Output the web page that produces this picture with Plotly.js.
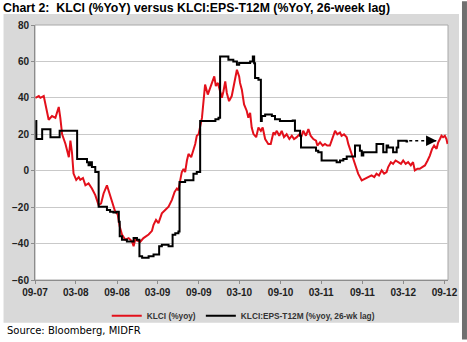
<!DOCTYPE html>
<html><head><meta charset="utf-8">
<script src="https://cdn.plot.ly/plotly-3.0.1.min.js"></script>
<style>html,body{margin:0;padding:0;background:#fff;}#chart{width:467px;height:342px;}</style>
</head><body><div id="chart"></div>
<script>
// ---- data ----
const klciDates = ['2007-09-03','2007-09-18','2007-09-25','2007-10-10','2007-11-01','2007-11-16','2007-12-01','2007-12-16','2007-12-23','2007-12-31',
'2008-01-15','2008-01-30','2008-02-06','2008-02-13','2008-02-20','2008-03-03','2008-03-14','2008-03-21','2008-04-02','2008-04-13',
'2008-04-27','2008-05-12','2008-05-27','2008-06-11','2008-06-22','2008-07-03','2008-07-18','2008-07-30','2008-08-10','2008-08-24',
'2008-09-04','2008-09-13','2008-09-23','2008-10-08','2008-10-23','2008-11-07','2008-11-14','2008-11-21','2008-12-14','2008-12-28',
'2009-01-20','2009-02-04','2009-02-11','2009-02-22','2009-03-05','2009-03-20','2009-04-04','2009-04-19','2009-05-04','2009-05-16',
'2009-05-26','2009-06-02','2009-06-10','2009-06-17','2009-06-25','2009-07-02','2009-07-10','2009-07-17','2009-07-29','2009-08-08',
'2009-08-16','2009-08-23','2009-08-31','2009-09-15','2009-09-22','2009-09-29','2009-10-11','2009-10-22','2009-11-01','2009-11-09',
'2009-11-16','2009-11-25','2009-12-05','2009-12-13','2009-12-20','2009-12-28','2010-01-04','2010-01-14','2010-01-26','2010-02-07',
'2010-02-18','2010-02-28','2010-03-04','2010-03-12','2010-03-22','2010-04-03','2010-04-10','2010-04-18','2010-04-25','2010-05-03',
'2010-05-15','2010-05-25','2010-06-05','2010-06-13','2010-06-24','2010-07-08','2010-07-19','2010-07-31','2010-08-07','2010-08-15',
'2010-08-26','2010-09-06','2010-09-16','2010-09-28','2010-10-10','2010-10-21','2010-10-31','2010-11-12','2010-11-24','2010-12-04',
'2010-12-11','2010-12-23','2011-01-03','2011-01-13','2011-01-25','2011-02-06','2011-02-12','2011-02-24','2011-03-08','2011-03-18',
'2011-03-28','2011-04-09','2011-04-21','2011-05-02','2011-05-12','2011-05-24','2011-05-31','2011-06-11','2011-06-23','2011-06-30',
'2011-07-15','2011-07-30','2011-08-13','2011-08-29','2011-09-12','2011-09-27','2011-10-12','2011-10-24','2011-11-03','2011-11-14',
'2011-11-26','2011-12-07','2011-12-18','2011-12-25','2012-01-06','2012-01-16','2012-01-27','2012-02-08','2012-02-20','2012-03-01',
'2012-03-12','2012-03-23','2012-04-04','2012-04-14','2012-04-22','2012-05-04','2012-05-14','2012-05-25','2012-06-06','2012-06-18',
'2012-06-28','2012-07-08','2012-07-17','2012-07-28','2012-08-04','2012-08-12','2012-08-19','2012-08-26','2012-09-03','2012-09-10',
'2012-09-15'];
const klciYoY = [40,41,40,41,28,30,29,35,29,20,
14.7,7.4,16.5,10,-1.6,-5,-3.5,-5,-4,-8,
-7,-9.8,-13.4,-18.9,-18,-12.5,-8,-12.5,-17,-22.5,
-24,-30.6,-35,-37.9,-37,-38.8,-41.5,-37.9,-39,-37,
-35,-33,-29.7,-27,-28.8,-23.4,-21.6,-19.8,-16,-11.6,
-9.8,-10.7,-5.3,-0.8,1,-0.8,5.6,9.2,7.4,11,
14.7,19.2,20,29,38.2,47.3,41.8,45.4,48.2,51.8,
46.5,48.2,43.6,40,43.6,49,42.7,38.2,41,49,
55.4,51.8,48.2,44.5,36.4,32.8,29.1,31.8,23.7,20.1,
18.4,23.7,21.9,23.7,17.4,14.7,14.7,21,20,21.9,
19.2,21.9,18.4,20,17.4,19.2,17.4,18.4,20,19.2,
21.9,19.2,22.8,19.2,17.4,16.5,13.8,15.6,13.8,14.7,
13.8,13.8,18.4,21.9,20,21,19.2,20,18.4,14.7,
9.2,2.9,-1.6,-5.3,-4.4,-3.5,-2.6,-3.5,-1.6,-2.6,
0.2,-1.6,-0.7,2,4.7,3.8,5.6,4.7,3.8,5.6,
3.8,4.7,2.9,4.7,0.2,1.1,1.1,2,2.9,5.6,
8.3,12,13.8,12,15.5,17.4,19.2,18.4,19.2,17.4,
14.7];

const epsDates = ['2007-09-03','2007-09-07','2007-10-03','2007-11-09','2007-12-20','2008-03-07','2008-04-20','2008-04-27','2008-05-05','2008-05-12',
'2008-05-27','2008-06-11','2008-07-18','2008-08-01','2008-08-16','2008-08-29','2008-09-09','2008-09-13','2008-09-23','2008-10-15',
'2008-11-14','2008-11-29','2008-12-10','2008-12-22','2009-01-20','2009-02-11','2009-03-08','2009-03-20','2009-04-19','2009-05-07',
'2009-05-19','2009-06-02','2009-06-07','2009-07-02','2009-08-08','2009-08-23','2009-09-07','2009-11-14','2009-11-28','2009-12-05',
'2010-01-11','2010-02-02','2010-02-18','2010-02-28','2010-04-18','2010-04-30','2010-05-06','2010-05-10','2010-05-25','2010-06-05',
'2010-06-09','2010-06-24','2010-07-24','2010-08-07','2010-08-29','2010-10-25','2010-11-04','2010-11-27','2010-12-01','2011-02-06',
'2011-02-16','2011-03-03','2011-05-09','2011-05-24','2011-06-08','2011-06-23','2011-07-30','2011-08-21','2011-08-29','2011-09-05',
'2011-11-03','2011-12-03','2011-12-18','2011-12-25','2012-01-16','2012-02-01','2012-02-08','2012-03-16','2012-03-23'];
const epsYoYLag = [27.3,17.4,22.8,18.4,21.9,6.5,4.7,3,4.7,2,
-0.7,-19.8,-21.6,-22.5,-23,-22.5,-28,-36,-37.9,-38.8,
-37,-37.9,-47,-47.8,-47,-46,-41.5,-40.7,-41.5,-35.2,
-34.3,-33.4,-6.2,-5.3,-1.6,-0.7,27.3,28.2,29.1,62.7,
60.9,60,58.2,59.1,60,62.7,59,50.9,50,27.3,
30,30.9,30,28.2,27.3,27.6,21.9,19.2,12.8,11,
10.1,5.6,4.7,5.6,6.5,7.8,13.8,11,8.3,10.1,
14.7,10.1,13.8,12.8,10.1,12.8,16.5,16.1,16.1];

// projection arrow (EPS trend)
const arrowStart = '2012-03-28';
const arrowEnd = '2012-07-28';
const arrowLevel = 16.5;

const tickDates = ['2007-09-01','2008-03-01','2008-09-01','2009-03-01','2009-09-01','2010-03-01','2010-09-01','2011-03-01','2011-09-01','2012-03-01','2012-09-01'];
const tickLabels = ['09-07','03-08','09-08','03-09','09-09','03-10','09-10','03-11','09-11','03-12','09-12'];

const seriesNames = ['KLCI (%yoy)', 'KLCI:EPS-T12M (%yoy, 26-wk lag)'];
const titleText = 'Chart 2:\u00a0 KLCI (%YoY) versus KLCI:EPS-T12M (%YoY, 26-week lag)';
const sourceText = 'Source: Bloomberg, MIDFR';

// ---- layout geometry ----
const W = 467, H = 342, L = 34.5, R = 448, T = 25, B = 282;
const pw = R - L, ph = B - T;
const px = x => (x - L) / pw;
const py = y => (B - y) / ph;

const traces = [
  {x: klciDates, y: klciYoY, name: seriesNames[0], type: 'scatter', mode: 'lines',
   line: {color: '#e3101b', width: 2}},
  {x: epsDates, y: epsYoYLag, name: seriesNames[1], type: 'scatter', mode: 'lines',
   line: {color: '#000000', width: 2, shape: 'hv'}}
];

const tickFont = {family: 'Liberation Sans, Arial, sans-serif', size: 10, color: '#222', weight: 'bold'};

const layout = {
  width: W, height: H,
  margin: {l: L, r: W - R, t: T, b: H - B, pad: 0},
  paper_bgcolor: '#ffffff',
  plot_bgcolor: 'rgba(0,0,0,0)',
  showlegend: true,
  title: {text: '<b>' + titleText + '</b>', xref: 'container', yref: 'container',
          x: 3 / W, xanchor: 'left', y: 1 - 8 / H, yanchor: 'middle',
          font: {family: 'Liberation Sans, Arial, sans-serif', size: 12.3, color: '#000'}},
  xaxis: {type: 'date', range: ['2007-09-01', '2012-09-17'],
          tickmode: 'array', tickvals: tickDates, ticktext: tickLabels,
          showgrid: false, showline: true, linecolor: '#8c8c8c', linewidth: 1,
          ticks: 'outside', ticklen: 3, tickcolor: '#8c8c8c', tickfont: tickFont,
          zeroline: false, fixedrange: true},
  yaxis: {range: [-60, 80], dtick: 20, tick0: 0,
          showgrid: true, gridcolor: '#c9c9c9', gridwidth: 1,
          showline: true, linecolor: '#8c8c8c', linewidth: 1,
          ticks: 'outside', ticklen: 3, tickcolor: '#8c8c8c', tickfont: tickFont,
          zeroline: false, fixedrange: true},
  legend: {orientation: 'h', x: px(243), xanchor: 'center', y: py(318), yanchor: 'middle',
           font: {family: 'Liberation Sans, Arial, sans-serif', size: 8.3, color: '#333', weight: 'bold'},
           bgcolor: 'rgba(0,0,0,0)', itemwidth: 30, traceorder: 'normal'},
  shapes: [
    {type: 'rect', xref: 'paper', yref: 'paper', x0: px(3), x1: px(459), y0: py(325), y1: py(14),
     fillcolor: '#d9d9d9', line: {width: 0}, layer: 'below'},
    {type: 'rect', xref: 'paper', yref: 'paper', x0: px(462), x1: px(467), y0: py(342), y1: py(1),
     fillcolor: '#6f6f6f', line: {width: 0}, layer: 'below'},
    {type: 'rect', xref: 'paper', yref: 'paper', x0: 0, x1: 1, y0: 0, y1: 1,
     fillcolor: '#ffffff', line: {color: '#a8a8a8', width: 1}, layer: 'below'},
    {type: 'line', xref: 'x', yref: 'y', x0: arrowStart, x1: arrowEnd, y0: arrowLevel, y1: arrowLevel,
     line: {color: '#000', width: 1.5, dash: 'dot'}}
  ],
  annotations: [
    {x: arrowEnd, y: arrowLevel, xref: 'x', yref: 'y', ax: -7, ay: 0, text: '',
     showarrow: true, arrowhead: 2, arrowsize: 1.4, arrowwidth: 1.5, arrowcolor: '#000'},
    {text: sourceText, xref: 'paper', yref: 'paper', x: px(4), y: py(333),
     xanchor: 'left', yanchor: 'middle', showarrow: false,
     font: {family: 'DejaVu Sans, Verdana, sans-serif', size: 10, color: '#000'}}
  ]
};

Plotly.newPlot('chart', traces, layout, {displayModeBar: false, staticPlot: true});
</script>
</body></html>
